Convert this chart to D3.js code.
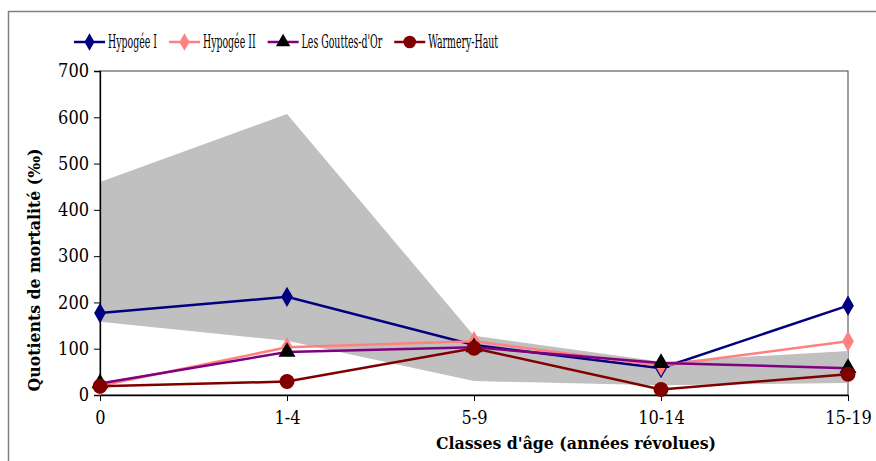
<!DOCTYPE html>
<html>
<head>
<meta charset="utf-8">
<script src="https://cdn.jsdelivr.net/npm/d3@7"></script>
<style>
  body { margin: 0; background: #fff; }
  svg text { font-family: "DejaVu Serif Condensed", "DejaVu Serif", serif; font-stretch: condensed; }
</style>
</head>
<body>
<div id="chart"></div>
<script>
// données
const classes = ["0", "1-4", "5-9", "10-14", "15-19"];
const hypogee1 = [177, 212, 108, 58, 193];
const hypogee2 = [20, 103, 116, 63, 116];
const gouttesOr = [25, 93, 103, 69, 58];
const warmery = [19, 29, 101, 12, 45];
// zone grisée (min / max)
const bandeHaut = [460, 607, 128, 72, 95];
const bandeBas = [158, 117, 30, 21, 26];
const yTicks = [0, 100, 200, 300, 400, 500, 600, 700];

const series = [
  { name: "Hypogée I", values: hypogee1, color: "#000080", marker: "diamond", mfill: "#000080" },
  { name: "Hypogée II", values: hypogee2, color: "#FF8080", marker: "diamond", mfill: "#FF8080" },
  { name: "Les Gouttes-d'Or", values: gouttesOr, color: "#800080", marker: "triangle", mfill: "#000000" },
  { name: "Warmery-Haut", values: warmery, color: "#800000", marker: "circle", mfill: "#800000" }
];

const width = 876, height = 461;
const plot = { left: 100, right: 848, top: 71, bottom: 395 };

const svg = d3.select("#chart").append("svg")
  .attr("width", width)
  .attr("height", height);

// cadre extérieur
svg.append("rect")
  .attr("x", 8.5).attr("y", 11.5)
  .attr("width", width + 10).attr("height", height + 10)
  .attr("fill", "none").attr("stroke", "#808080").attr("stroke-width", 1.5);

const x = d3.scalePoint().domain(classes).range([plot.left, plot.right]);
const y = d3.scaleLinear().domain([0, 700]).range([plot.bottom, plot.top]);

// cadre zone de traçage
svg.append("rect")
  .attr("x", plot.left).attr("y", plot.top)
  .attr("width", plot.right - plot.left).attr("height", plot.bottom - plot.top)
  .attr("fill", "none").attr("stroke", "#404040").attr("stroke-width", 1);

// bande grise
const area = d3.area()
  .x((d, i) => x(classes[i]))
  .y0(d => y(d[0]))
  .y1(d => y(d[1]));
svg.append("path")
  .datum(bandeBas.map((b, i) => [b, bandeHaut[i]]))
  .attr("d", area)
  .attr("fill", "#C0C0C0");

// axes
const yAxis = d3.axisLeft(y).tickValues(yTicks).tickSize(6).tickPadding(5);
const gy = svg.append("g").attr("transform", `translate(${plot.left},0)`).call(yAxis);
gy.select(".domain").attr("stroke", "#000").attr("stroke-width", 1.3);
gy.selectAll(".tick line").attr("stroke", "#000");
gy.selectAll(".tick text").attr("font-size", 18).attr("fill", "#000");

const xAxis = d3.axisBottom(x).tickSize(6).tickPadding(10).tickSizeOuter(0);
const gx = svg.append("g").attr("transform", `translate(0,${plot.bottom})`).call(xAxis);
gx.select(".domain").attr("stroke", "#000").attr("stroke-width", 1.3);
gx.selectAll(".tick line").attr("stroke", "#000");
gx.selectAll(".tick text").attr("font-size", 18).attr("fill", "#000");

// titres des axes
svg.append("text")
  .attr("transform", "translate(40,270) rotate(-90)")
  .attr("text-anchor", "middle")
  .attr("font-size", 17.5).attr("font-weight", "bold")
  .text("Quotients de mortalité (‰)");

svg.append("text")
  .attr("x", 576).attr("y", 449)
  .attr("text-anchor", "middle")
  .attr("font-size", 17.5).attr("font-weight", "bold")
  .text("Classes d'âge (années révolues)");

const symbols = {
  diamond: d3.symbol().type(d3.symbolDiamond).size(120),
  triangle: d3.symbol().type(d3.symbolTriangle).size(125),
  circle: d3.symbol().type(d3.symbolCircle).size(175)
};

const line = d3.line().x((d, i) => x(classes[i])).y(d => y(d));

series.forEach(s => {
  const g = svg.append("g");
  g.append("path")
    .datum(s.values)
    .attr("d", line)
    .attr("fill", "none")
    .attr("stroke", s.color)
    .attr("stroke-width", 2.5);
  g.selectAll("path.m")
    .data(s.values)
    .enter().append("path")
    .attr("class", "m")
    .attr("d", symbols[s.marker])
    .attr("transform", (d, i) => `translate(${x(classes[i])},${y(d)})`)
    .attr("fill", s.mfill);
});

// légende : texte étroit (comprimé horizontalement), placement séquentiel
const squeeze = 0.58;
const legend = svg.append("g");
let lx = 74;
series.forEach(s => {
  const lg = legend.append("g").attr("transform", `translate(${lx},42)`);
  lg.append("line").attr("x1", 0).attr("x2", 31).attr("y1", 0).attr("y2", 0)
    .attr("stroke", s.color).attr("stroke-width", 2.5);
  lg.append("path").attr("d", symbols[s.marker])
    .attr("transform", "translate(15.5,0) scale(0.85)")
    .attr("fill", s.mfill);
  const t = lg.append("text")
    .attr("transform", `translate(34,6) scale(${squeeze},1)`)
    .attr("font-size", 18)
    .text(s.name);
  lx += 34 + t.node().getComputedTextLength() * squeeze + 12;
});
</script>
</body>
</html>
